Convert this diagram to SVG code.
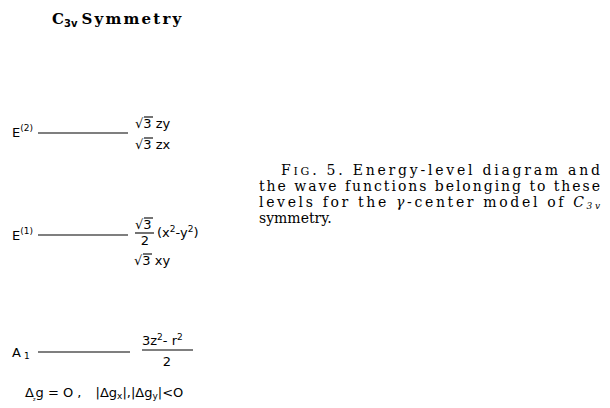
<svg xmlns="http://www.w3.org/2000/svg" width="610" height="408" viewBox="0 0 610 408">
<style>
.lab{font-family:"DejaVu Sans","Liberation Sans",sans-serif;font-size:13px;fill:#000}
.sm{font-size:9px}
.cap{font-family:"DejaVu Serif","Liberation Serif",serif;font-size:14px;fill:#000}
.lvl{stroke:#000;stroke-width:1.1}
.bar{stroke:#000;stroke-width:1.1}
</style>
<rect width="610" height="408" fill="#fff"/>
<g id="title">
<text x="52" y="24" font-family="DejaVu Serif, serif" font-size="15" font-weight="bold" fill="#000">C<tspan font-family="DejaVu Sans, sans-serif" font-size="10" dy="3">3v</tspan><tspan dy="-3" dx="4" letter-spacing="2.2">Symmetry</tspan></text>
</g>
<g id="connectors">
<line class="lvl" x1="38" y1="133" x2="128" y2="133"/>
<line class="lvl" x1="38" y1="235" x2="128" y2="235"/>
<line class="lvl" x1="38" y1="352" x2="130" y2="352"/>
</g>
<g id="E2">
<text class="lab" x="12" y="137">E<tspan class="sm" dy="-6">(2)</tspan></text>
<text class="lab" x="135" y="128">√3 zy</text>
<line class="bar" x1="144" y1="117" x2="153" y2="117"/>
<text class="lab" x="135" y="149">√3 zx</text>
<line class="bar" x1="144" y1="138" x2="153" y2="138"/>
</g>
<g id="E1">
<text class="lab" x="12" y="240">E<tspan class="sm" dy="-6">(1)</tspan></text>
<text class="lab" x="135" y="229">√3</text>
<line class="bar" x1="144" y1="218" x2="153" y2="218"/>
<line class="bar" x1="135" y1="233" x2="154" y2="233"/>
<text class="lab" x="145" y="245" text-anchor="middle">2</text>
<text class="lab" x="157" y="237">(x<tspan class="sm" dy="-5">2</tspan><tspan dy="5">-y</tspan><tspan class="sm" dy="-5">2</tspan><tspan dy="5">)</tspan></text>
<text class="lab" x="134" y="265">√3 xy</text>
<line class="bar" x1="143" y1="254" x2="152" y2="254"/>
</g>
<g id="A1">
<text class="lab" x="12" y="357">A<tspan class="sm" dx="3" dy="2">1</tspan></text>
<text class="lab" x="142" y="345">3z<tspan class="sm" dy="-5">2</tspan><tspan dy="5">- r</tspan><tspan class="sm" dy="-5">2</tspan></text>
<line class="bar" x1="142" y1="350" x2="193" y2="350"/>
<text class="lab" x="167" y="366" text-anchor="middle">2</text>
</g>
<g id="cond">
<text class="lab" x="25" y="397">Δ<tspan font-size="5" dy="4" dx="-1">z</tspan><tspan dy="-4" dx="0">g = O ,  </tspan><tspan dx="10">|Δg</tspan><tspan class="sm" dy="2">x</tspan><tspan dy="-2">|,|Δg</tspan><tspan class="sm" dy="2">y</tspan><tspan dy="-2">|&lt;O</tspan></text>
</g>
<g id="caption">
<text class="cap" x="281" y="175" textLength="319" lengthAdjust="spacing">F<tspan font-size="11">IG</tspan>. 5. Energy-level diagram and</text>
<text class="cap" x="259" y="191" textLength="341" lengthAdjust="spacing">the wave functions belonging to these</text>
<text class="cap" x="259" y="207" textLength="341" lengthAdjust="spacing">levels for the <tspan font-style="italic">γ</tspan>-center model of <tspan font-style="italic">C</tspan><tspan font-style="italic" font-size="9" dy="2">3v</tspan></text>
<text class="cap" x="259" y="223">symmetry.</text>
</g>
</svg>
